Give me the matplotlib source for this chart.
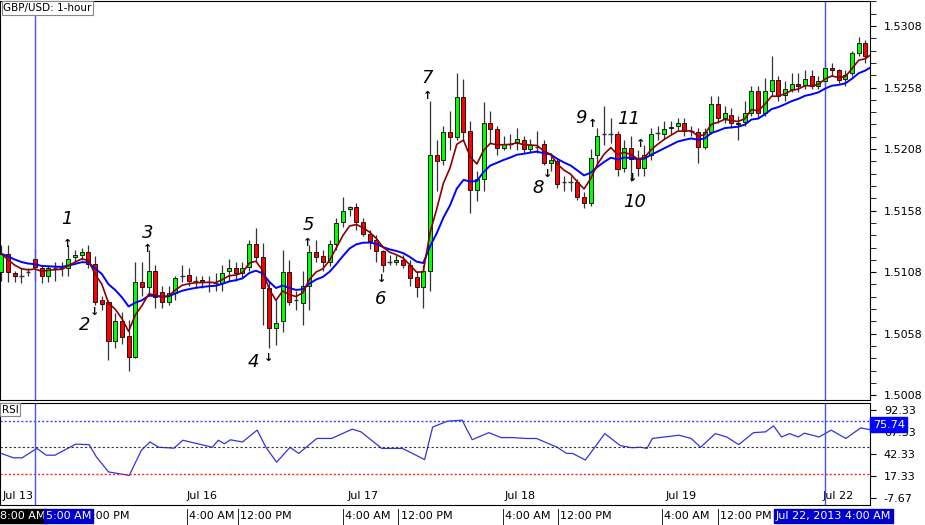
import matplotlib
matplotlib.use('Agg')
import matplotlib.pyplot as plt
import numpy as np
import pandas as pd

# GBP/USD 1-hour candles, pips above 1.5000
opens = [108,123,107,105,108,119,111,105,111,111,111,120,122,124,115,85,84,52,68,56,39,100,96,109,92,84,91,105,106,101,102,100,99,99,109,111,107,112,131,120,95,63,68,108,85,83,97,124,121,116,131,149,159,161,149,139,134,125,116,116,118,114,104,96,109,203,199,222,218,250,223,175,184,229,224,209,212,213,215,208,210,212,197,198,181,181,181,169,164,203,220,220,220,193,209,201,193,203,221,220,225,227,229,223,222,210,222,245,233,236,228,230,237,255,237,255,264,252,257,261,260,267,259,263,274,272,265,270,286,294,284]
closes = [123,108,105,105,108,112,105,111,111,111,119,122,124,115,84,82,52,68,55,39,100,96,109,88,84,91,103,105,101,101,100,100,99,107,111,107,111,131,120,95,63,67,108,84,85,97,124,120,116,131,148,158,161,149,139,133,125,114,116,118,114,103,96,109,203,198,222,218,250,222,175,184,229,224,209,212,212,216,208,211,210,197,199,180,181,181,169,164,201,219,220,220,192,209,200,193,203,220,221,224,226,229,223,223,210,222,245,233,237,229,229,237,255,237,255,264,251,257,261,259,265,259,263,274,272,264,268,286,294,284,293]
highs = [130,130,109,111,111,127,114,114,116,116,130,126,128,130,121,89,85,75,76,69,116,116,126,114,97,97,105,114,111,105,105,105,107,114,119,116,116,134,144,132,101,85,126,118,93,109,130,134,126,134,152,169,162,164,152,142,138,126,122,122,122,118,109,114,247,215,227,239,270,265,231,190,246,239,227,219,220,225,219,216,223,215,205,200,186,186,184,173,208,225,243,233,223,215,219,207,211,225,227,231,231,233,233,227,225,225,251,251,243,241,235,247,259,259,266,284,267,263,270,270,272,272,267,280,278,273,272,288,299,297,296]
lows = [101,100,100,99,105,101,99,100,101,105,105,116,118,111,81,77,37,46,50,28,38,89,89,79,79,81,85,100,97,95,95,92,93,93,101,101,103,109,116,65,46,49,59,81,77,65,77,116,109,113,126,145,154,142,137,127,116,108,114,114,111,97,88,79,93,174,195,207,215,215,156,166,174,213,203,207,208,207,205,205,205,195,190,176,174,174,167,160,162,195,211,213,186,189,182,186,186,199,215,216,220,223,219,219,197,208,220,229,229,225,215,227,235,233,235,251,247,247,254,254,257,257,257,259,267,262,259,267,284,278,281]

# RSI line vertices (bar index, value)
rsi_idx = [0,1.8,3.1,5.3,6.7,8,11.1,13.1,14.2,16,19.1,20.9,22.2,23.5,25.8,27.1,29.3,31.5,32.4,33.3,34.2,36,38.2,39.5,41.1,43.1,44.4,47.1,49.3,52.4,53.7,56.8,59.9,63.2,64.4,66.6,68.8,70.3,72.8,74.6,76.4,78.2,79.9,83,84.4,85.3,87.2,90.1,92.4,94.1,95.5,96.4,97.2,101.2,103,104.4,106.6,108.3,110.1,112.3,114.1,115.3,116.5,117.7,119,119.9,122.1,123.9,126.1,128.3,130.1]
rsi_val = [43,38,38,48.7,41,41,53.5,53,39,22,18,46.5,56,50,49,58,54,50,58,54,58.5,56,69.5,50,33,50,43,60,60,70.6,67.5,48.7,48.7,36,73,79.6,80.8,58.6,66.6,61,61,60,60,50,43,43,35.5,65.5,52,49.5,50,48.7,60,63.7,60,50,65.5,61.7,53,66.6,67.5,74.3,61.7,65.5,61.7,66,61.7,69.5,60,72,69.5]
rsi_last = 75.74

price_ticks = [1.5008, 1.5058, 1.5108, 1.5158, 1.5208, 1.5258, 1.5308]
rsi_ticks = [92.33, 67.33, 42.33, 17.33, -7.67]
day_labels = ['Jul 13', 'Jul 16', 'Jul 17', 'Jul 18', 'Jul 19', 'Jul 22']
day_pos = [2.5, 30, 54, 77.5, 101.5, 125]
time_labels = ['4:00 AM', '12:00 PM', '4:00 AM', '12:00 PM', '4:00 AM', '12:00 PM', '4:00 AM', '12:00 PM']
time_pos = [28, 35.7, 51.3, 59.6, 75.2, 83.4, 99, 107.3]
vlines = [5, 123]

# annotations: label, text pos, arrow pos, direction
notes = [('1', 9.85, 1.5151, 9.85, 1.51305, 'up'),
         ('2', 12.5, 1.50649, 13.9, 1.50754, 'down'),
         ('3', 21.9, 1.51400, 21.9, 1.51265, 'up'),
         ('4', 37.6, 1.50349, 39.9, 1.50381, 'down'),
         ('5', 45.8, 1.51465, 45.7, 1.51320, 'up'),
         ('6', 56.7, 1.50860, 56.7, 1.51022, 'down'),
         ('7', 63.6, 1.52655, 63.6, 1.52515, 'up'),
         ('8', 80.2, 1.51767, 81.5, 1.5188, 'down'),
         ('9', 86.6, 1.52334, 88.2, 1.52280, 'up'),
         ('10', 94.6, 1.51650, 94.3, 1.51848, 'down'),
         ('11', 93.7, 1.52326, 95.4, 1.52118, 'up')]

o = 1.5 + np.array(opens) / 10000
c = 1.5 + np.array(closes) / 10000
h = 1.5 + np.array(highs) / 10000
l = 1.5 + np.array(lows) / 10000
idx = np.arange(len(o))

fast = pd.Series(c).ewm(span=5, adjust=False).mean()
slow = pd.Series(c).ewm(span=12, adjust=False).mean()

fig = plt.figure(figsize=(9.25, 5.25), dpi=100)
ax = fig.add_axes([0, 125 / 525, 870 / 925, 399 / 525])
ax2 = fig.add_axes([0, 20 / 525, 870 / 925, 102 / 525])

xlim = (-0.2, 129.7)

# candles
for i in idx:
    up = c[i] >= o[i]
    ax.vlines(i, l[i], h[i], color='#333333', lw=0.9, zorder=2)
    if abs(c[i] - o[i]) < 0.00002:
        ax.hlines(o[i], i - 0.35, i + 0.35, color='#333333', lw=1, zorder=3)
    else:
        ax.bar(i, c[i] - o[i], bottom=o[i], width=0.6,
               color='#00ff00' if up else '#ff0000', edgecolor='black', lw=0.6, zorder=3)

ax.plot(idx, slow, color='#0000ff', lw=1.4, zorder=4)
ax.plot(idx, fast, color='#8b0000', lw=1.2, zorder=4)

for lab, tx, ty, axx, ayy, d in notes:
    ax.text(tx, ty, lab, fontsize=13, style='italic', ha='center', va='center', color='black')
    ax.text(axx, ayy, '↑' if d == 'up' else '↓', fontsize=8, fontweight='bold',
            ha='center', va='center')

ax.set_xlim(xlim)
ax.set_ylim(1.50041, 1.53283)
ax.yaxis.tick_right()
ax.set_yticks(price_ticks)
ax.set_yticklabels([f'{t:.4f}' for t in price_ticks], fontsize=8)
ax.set_yticks(np.arange(1.5008, 1.5330, 0.001), minor=True)
ax.tick_params(axis='y', which='both', direction='out', length=4, pad=6)
ax.set_xticks([])
ax.text(0.004, 0.995, 'GBP/USD: 1-hour', transform=ax.transAxes, fontsize=7.5, va='top',
        bbox=dict(boxstyle='square,pad=0.15', fc='white', ec='#888888', lw=0.8))

# RSI panel
ax2.plot(rsi_idx, rsi_val, color='#3333dd', lw=0.9)
ax2.axhline(80, color='#3344ff', ls=(0, (1.5, 1.5)), lw=1)
ax2.axhline(50, color='#333333', ls=(0, (2, 2)), lw=0.8)
ax2.axhline(20, color='#ff2222', ls=(0, (1.5, 1.5)), lw=1)
ax2.set_xlim(xlim)
ax2.set_ylim(-15.6, 100.3)
ax2.yaxis.tick_right()
ax2.set_yticks(rsi_ticks)
ax2.set_yticklabels([f'{t:.2f}' for t in rsi_ticks], fontsize=8)
ax2.tick_params(axis='y', direction='out', length=4, pad=6)
ax2.set_xticks(day_pos)
ax2.set_xticklabels(day_labels, fontsize=8)
ax2.tick_params(axis='x', direction='in', length=0, pad=-10)
ax2.text(0.002, 0.985, 'RSI', transform=ax2.transAxes, fontsize=7.5, va='top',
         bbox=dict(boxstyle='square,pad=0.12', fc='white', ec='#888888', lw=0.8))
ax2.text(1.003, (rsi_last + 15.6) / 115.9, f'{rsi_last:.2f}', transform=ax2.transAxes,
         fontsize=8, color='white', va='center', ha='left',
         bbox=dict(boxstyle='square,pad=0.2', fc='#0000ff', ec='#0000ff'))

for a in (ax, ax2):
    for v in vlines:
        a.axvline(v, color='#4455ee', lw=1)
    for s in a.spines.values():
        s.set_color('black')
        s.set_linewidth(0.8)

# time strip along the bottom
ts = fig.add_axes([0, 0, 870 / 925, 20 / 525])
ts.set_xlim(xlim)
ts.set_ylim(0, 1)
ts.axis('off')
for p, t in zip(time_pos, time_labels):
    ts.text(p, 0.45, t, fontsize=8, ha='left', va='center')
    ts.plot([p - 0.3, p - 0.3], [0, 0.8], color='black', lw=0.6)
ts.text(-0.2, 0.45, '8:00 AM', fontsize=8, color='white', va='center',
        bbox=dict(boxstyle='square,pad=0.15', fc='black', ec='black'))
ts.text(6.6, 0.45, '5:00 AM', fontsize=8, color='white', va='center',
        bbox=dict(boxstyle='square,pad=0.15', fc='#0000cc', ec='#0000cc'))
ts.text(13.5, 0.45, ':00 PM', fontsize=8, va='center')
ts.text(115.6, 0.45, 'Jul 22, 2013 4:00 AM', fontsize=8, color='white', va='center',
        bbox=dict(boxstyle='square,pad=0.15', fc='#0000cc', ec='#0000cc'))

fig.savefig('out.png', dpi=100)
